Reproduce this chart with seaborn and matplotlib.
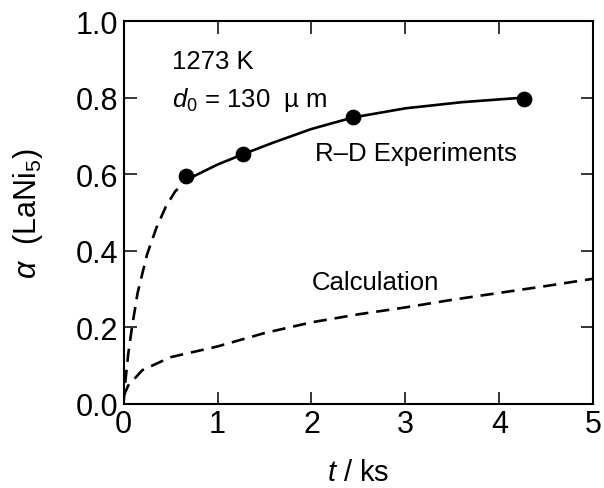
import matplotlib
matplotlib.use("Agg")
import matplotlib.pyplot as plt
import seaborn as sns
import pandas as pd

# measured R-D experiment points (t / ks, alpha)
exp_t = [0.67, 1.27, 2.44, 4.26]
exp_alpha = [0.596, 0.652, 0.750, 0.797]

# solid fit through the experiments
fit_t = [0.67, 0.85, 1.0, 1.27, 1.6, 2.0, 2.44, 3.0, 3.6, 4.26]
fit_alpha = [0.585, 0.607, 0.625, 0.652, 0.683, 0.718, 0.748, 0.772, 0.788, 0.800]

# dashed extrapolation from the origin
early_t = [0.0, 0.02, 0.05, 0.09, 0.15, 0.25, 0.35, 0.45, 0.55, 0.67]
early_alpha = [0.0, 0.06, 0.13, 0.20, 0.29, 0.39, 0.46, 0.515, 0.555, 0.585]

# calculated curve
calc_t = [0.0, 0.05, 0.2, 0.5, 1.0, 1.5, 2.0, 2.5, 3.0, 3.5, 4.0, 4.5, 5.0]
calc_alpha = [0.02, 0.048, 0.088, 0.122, 0.15, 0.185, 0.213, 0.234, 0.252, 0.272, 0.290, 0.308, 0.327]

x_ticks = [0, 1, 2, 3, 4, 5]
y_ticks = [0.0, 0.2, 0.4, 0.6, 0.8, 1.0]

sns.set_theme(style="ticks")
plt.rcParams['font.family'] = ['Liberation Sans', 'DejaVu Sans']
plt.rcParams['mathtext.fontset'] = 'custom'
plt.rcParams['mathtext.it'] = 'Liberation Sans:italic'
plt.rcParams['mathtext.rm'] = 'Liberation Sans'
plt.rcParams['text.color'] = 'black'

fig = plt.figure(figsize=(6.04, 4.89), dpi=100)
ax = fig.add_axes([0.2045, 0.172, 0.778, 0.783])

lw = 1.9
sns.lineplot(x=early_t, y=early_alpha, ax=ax, color='black', lw=lw,
             linestyle=(0, (5, 3)), sort=False)
sns.lineplot(x=fit_t, y=fit_alpha, ax=ax, color='black', lw=lw, sort=False)
sns.lineplot(x=calc_t, y=calc_alpha, ax=ax, color='black', lw=lw,
             linestyle=(0, (5, 3)), sort=False)
sns.scatterplot(x=exp_t, y=exp_alpha, ax=ax, color='black', s=110,
                edgecolor='black', zorder=5)

ax.set_xlim(0, 5)
ax.set_ylim(0, 1.0)
ax.set_xticks(x_ticks)
ax.set_yticks(y_ticks)
ax.set_xticklabels([str(v) for v in x_ticks])
ax.set_yticklabels([f'{v:.1f}' for v in y_ticks])
ax.tick_params(direction='in', length=9, width=1.1, labelsize=22,
               top=True, right=True, pad=4, color='black', labelcolor='black')
for sp in ax.spines.values():
    sp.set_linewidth(1.5)
    sp.set_color('black')

ax.set_xlabel(r'$t$ / ks', fontsize=21, labelpad=13, color='black')
ax.set_ylabel(r'$\alpha$  (LaNi$_5$)', fontsize=22, labelpad=22, color='black')

ax.text(0.52, 0.895, '1273 K', fontsize=18.5, va='center', ha='left', color='black')
ax.text(0.52, 0.795, r'$d_0$ = 130  µ m', fontsize=18.5, va='center', ha='left', color='black')
ax.text(2.04, 0.655, 'R–D Experiments', fontsize=18.5, va='center', ha='left', color='black')
ax.text(2.0, 0.318, 'Calculation', fontsize=18.5, va='center', ha='left', color='black')

fig.savefig('out.png', dpi=100)
